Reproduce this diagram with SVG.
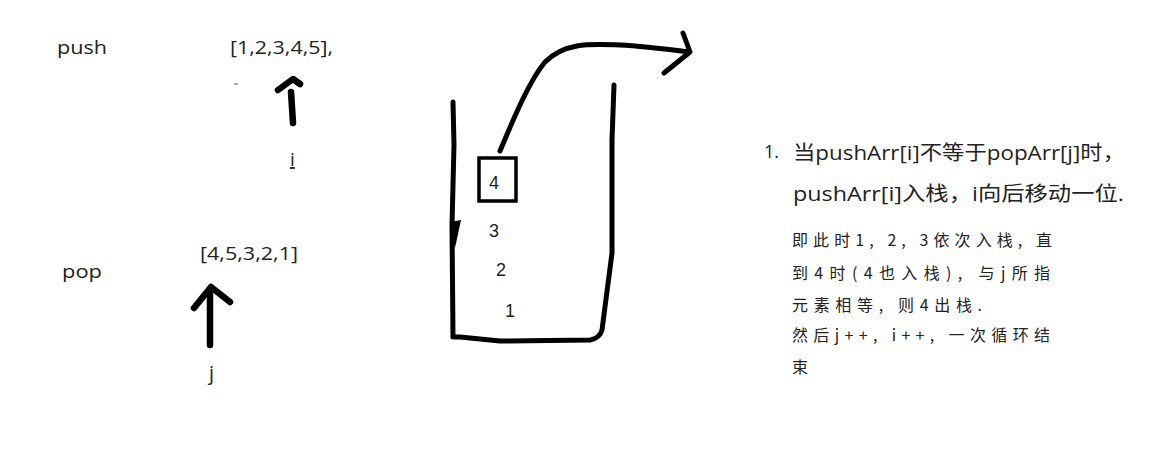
<svg xmlns="http://www.w3.org/2000/svg" width="1155" height="455" viewBox="0 0 1155 455">
<style>
.t{font-family:"Open Sans","Noto Sans","Noto Sans CJK SC",sans-serif;fill:#222}
.n{font-family:"Liberation Sans",Arial,sans-serif;fill:#222;font-size:18px}
.s{fill:none;stroke:#000;stroke-linecap:round;stroke-linejoin:round}
.c{font-family:"Noto Sans CJK SC",sans-serif;fill:#222;font-size:16px}
</style>
<rect width="1155" height="455" fill="#fff"/>
<g id="push-label"><text class="t" x="57" y="54" font-size="19" textLength="50" lengthAdjust="spacingAndGlyphs">push</text></g>
<g id="push-array"><text class="t" x="230" y="54" font-size="19" textLength="103" lengthAdjust="spacingAndGlyphs">[1,2,3,4,5],</text>
<line x1="234" y1="84" x2="238" y2="84" stroke="#555" stroke-width="1"/></g>
<g id="push-pointer">
<path class="s" stroke-width="6.5" d="M293,123 L291,92 M278,90 L293,79 L300,84"/>
<text class="t" x="290" y="166" font-size="19" text-decoration="underline">i</text>
</g>
<g id="pop-label"><text class="t" x="62" y="278" font-size="19" textLength="40" lengthAdjust="spacingAndGlyphs">pop</text></g>
<g id="pop-array"><text class="t" x="200" y="260" font-size="19" textLength="98" lengthAdjust="spacingAndGlyphs">[4,5,3,2,1]</text></g>
<g id="pop-pointer">
<path class="s" stroke-width="6.5" d="M210,345 L210,290 M194,308 L211,287 L230,302"/>
<text class="t" x="209" y="380" font-size="20">j</text>
</g>
<g id="stack">
<path class="s" stroke-width="5" d="M453,102 L454,145 L452,225 L453,337 Q452,337 460,337 L500,341 L590,340 Q600,338 602,330 L612,253 L612,140 L614,85"/>
<polygon points="450,222 461,220 455,248" fill="#000"/>
<rect x="479" y="158" width="37" height="43" fill="none" stroke="#000" stroke-width="3.5"/>
<text class="n" x="489" y="189">4</text>
<text class="n" x="489" y="237">3</text>
<text class="n" x="496" y="276">2</text>
<text class="n" x="505" y="317">1</text>
</g>
<g id="connectors">
<path class="s" stroke-width="5" d="M500,151 C515,115 530,80 545,62 C565,42 590,44 620,45 C640,46 665,49 689,52 M683,33 L690,52 L664,73"/>
</g>
<g id="note">
<text class="t" x="764" y="158" font-size="18">1.</text>
<text class="t" x="793" y="160" font-size="20" textLength="332" lengthAdjust="spacingAndGlyphs">当pushArr[i]不等于popArr[j]时，</text>
<text class="t" x="793" y="201" font-size="20" textLength="331" lengthAdjust="spacingAndGlyphs">pushArr[i]入栈，i向后移动一位.</text>
<text class="c" x="792" y="246" textLength="260" lengthAdjust="spacing">即此时1, 2, 3依次入栈, 直</text>
<text class="c" x="792" y="279" textLength="258" lengthAdjust="spacing">到4时(4也入栈), 与j所指</text>
<text class="c" x="792" y="311" textLength="190" lengthAdjust="spacing">元素相等, 则4出栈.</text>
<text class="c" x="792" y="341" textLength="258" lengthAdjust="spacing">然后j++, i++, 一次循环结</text>
<text class="c" x="792" y="373">束</text>
</g>
</svg>
